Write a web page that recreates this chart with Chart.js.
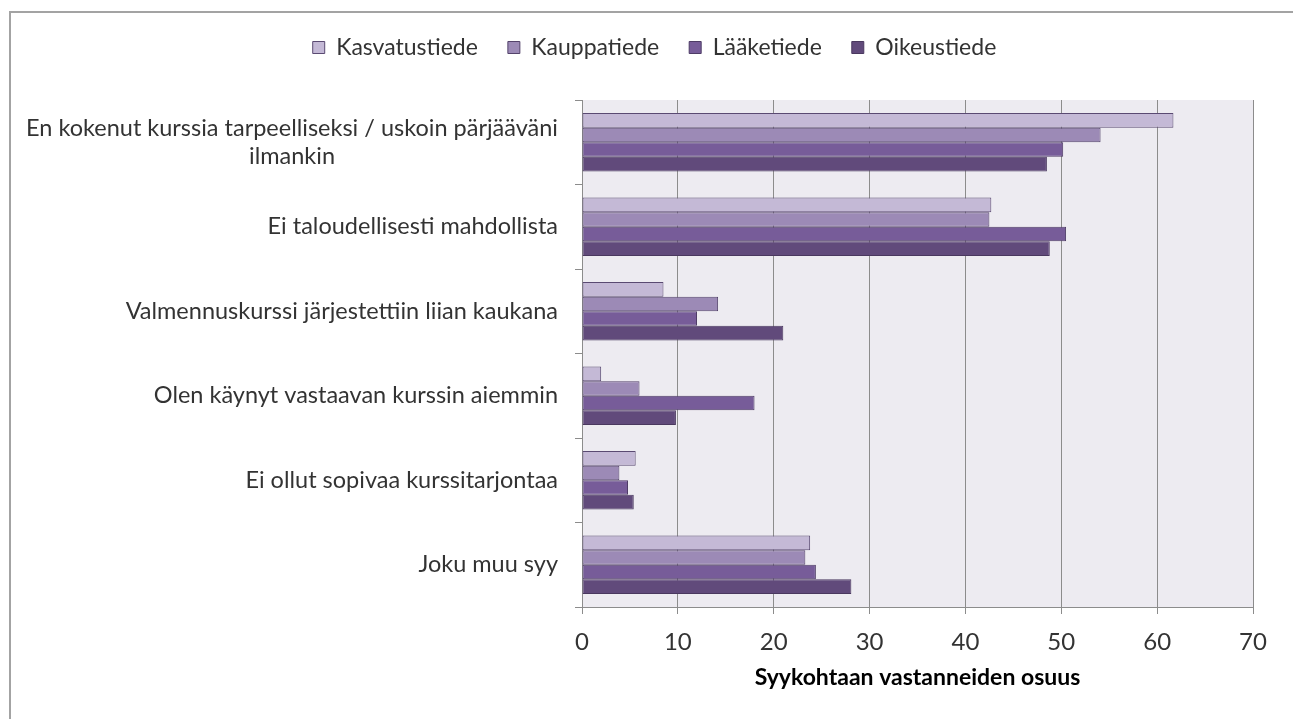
<!DOCTYPE html>
<html>
<head>
<meta charset="utf-8">
<script src="https://cdn.jsdelivr.net/npm/chart.js@4"></script>
<style>
    html, body { margin: 0; padding: 0; background: #fff; }
    #wrap { position: relative; width: 1293px; height: 719px; overflow: hidden; }
    #frame { position: absolute; left: 9px; top: 11px; width: 1400px; height: 800px;
             border-left: 2px solid #a3a3a3; border-top: 2px solid #a3a3a3; }
    #chart { position: absolute; left: 0; top: 0; }
</style>
</head>
<body>
<div id="wrap">
    <div id="frame"></div>
    <canvas id="chart" width="1293" height="719"></canvas>
</div>
<script>
// Syyt
const categories = [
    ['En kokenut kurssia tarpeelliseksi / uskoin pärjääväni', 'ilmankin'],
    'Ei taloudellisesti mahdollista',
    'Valmennuskurssi järjestettiin liian kaukana',
    'Olen käynyt vastaavan kurssin aiemmin',
    'Ei ollut sopivaa kurssitarjontaa',
    'Joku muu syy'
];

// Osuudet (%) per tiedekunta
const kasvatustiede = [61.7, 42.7, 8.5, 2.0, 5.6, 23.8];
const kauppatiede = [54.1, 42.5, 14.2, 6.0, 3.9, 23.3];
const laaketiede = [50.2, 50.5, 12.0, 18.0, 4.8, 24.4];
const oikeustiede = [48.5, 48.8, 21.0, 9.8, 5.4, 28.1];

const xTicks = [0, 10, 20, 30, 40, 50, 60, 70];

const fontFamily = 'Lato, "Open Sans", sans-serif';
const textColor = '#333333';
const gridColor = '#8c8c8c';
const padLeft = 56;

// taustaväri piirtoalueelle
const plotBackground = {
    id: 'plotBackground',
    beforeDraw(chart) {
        const { ctx, chartArea } = chart;
        ctx.save();
        ctx.fillStyle = '#edebf1';
        ctx.fillRect(chartArea.left, chartArea.top, chartArea.right - chartArea.left, chartArea.bottom - chartArea.top);
        ctx.restore();
    }
};

// legendin korkeus kiinteäksi
const legendHeight = {
    id: 'legendHeight',
    beforeInit(chart) {
        const originalFit = chart.legend.fit;
        chart.legend.fit = function fit() {
            originalFit.bind(chart.legend)();
            this.height = 94;
        };
    }
};

// y-akselin otsikot: rivit keskitetty toisiinsa nähden, oikea reuna akselia vasten
const categoryLabels = {
    id: 'categoryLabels',
    afterDraw(chart) {
        const { ctx } = chart;
        const yScale = chart.scales.y;
        const right = yScale.right - 24;
        const lineHeight = 28;
        ctx.save();
        ctx.font = '23.5px ' + fontFamily;
        ctx.fillStyle = textColor;
        ctx.textBaseline = 'middle';
        ctx.textAlign = 'center';
        categories.forEach((label, i) => {
            const lines = Array.isArray(label) ? label : [label];
            const maxW = Math.max(...lines.map(l => ctx.measureText(l).width));
            const cx = right - maxW / 2;
            const y0 = yScale.getPixelForValue(i) - (lines.length - 1) * lineHeight / 2;
            lines.forEach((l, j) => ctx.fillText(l, cx, y0 + j * lineHeight));
        });
        ctx.restore();
    }
};

const ctx = document.getElementById('chart').getContext('2d');

const data = {
    labels: categories,
    datasets: [
        { label: 'Kasvatustiede', data: kasvatustiede, backgroundColor: '#c4b9d6', borderColor: '#5a4a72' },
        { label: 'Kauppatiede', data: kauppatiede, backgroundColor: '#9c8ab6', borderColor: '#54436b' },
        { label: 'Lääketiede', data: laaketiede, backgroundColor: '#775c99', borderColor: '#4e3c66' },
        { label: 'Oikeustiede', data: oikeustiede, backgroundColor: '#614a7b', borderColor: '#4a385f' }
    ].map(ds => Object.assign(ds, {
        borderWidth: 1,
        borderSkipped: false,
        categoryPercentage: 0.69,
        barPercentage: 1.0
    }))
};

const config = {
    type: 'bar',
    data: data,
    options: {
        indexAxis: 'y',
        responsive: false,
        animation: false,
        layout: { padding: { top: 6, left: padLeft, right: 40, bottom: 0 } },
        plugins: {
            tooltip: { enabled: false },
            legend: {
                position: 'top',
                labels: {
                    color: textColor,
                    font: { family: fontFamily, size: 23 },
                    boxWidth: 12,
                    boxHeight: 12,
                    padding: 30
                }
            }
        },
        scales: {
            x: {
                min: 0,
                max: 70,
                afterBuildTicks(scale) {
                    scale.ticks = xTicks.map(v => ({ value: v }));
                },
                afterFit(scale) { scale.height = 112; },
                grid: { color: gridColor, tickLength: 7, drawOnChartArea: true },
                border: { display: true, color: gridColor },
                ticks: {
                    color: textColor,
                    font: { family: fontFamily, size: 24 },
                    padding: 14
                },
                title: {
                    display: true,
                    text: 'Syykohtaan vastanneiden osuus',
                    color: '#000',
                    font: { family: fontFamily, size: 23, weight: 'bold' },
                    padding: { top: 0, bottom: 28 }
                }
            },
            y: {
                offset: true,
                afterFit(scale) { scale.width = 582 - padLeft; },
                grid: { color: gridColor, tickLength: 7, drawOnChartArea: false, offset: true },
                border: { display: true, color: gridColor },
                ticks: { callback: () => '' }
            }
        }
    },
    plugins: [plotBackground, legendHeight, categoryLabels]
};

const chart = new Chart(ctx, config);
</script>
</body>
</html>
